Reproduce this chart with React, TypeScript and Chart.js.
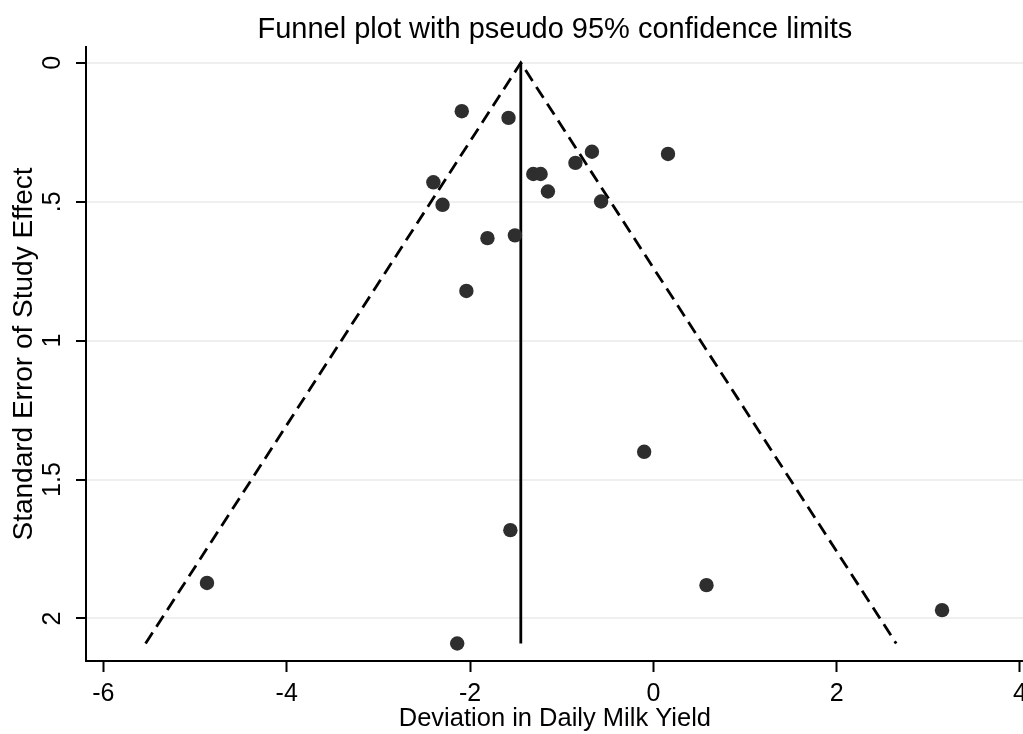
import React, { useEffect, useRef } from "react";
import { Chart, registerables } from "chart.js";

Chart.register(...registerables);

// Study estimates: effect (deviation in daily milk yield) and its standard error
const effectX = [-2.09, -1.58, -2.40, -2.30, -1.81, -1.51, -0.67, -0.85, 0.16, -1.31, -1.23, -1.15, -0.57, -2.04, -4.87, -2.14, -1.56, -0.10, 0.58, 3.15];
const seY = [0.174, 0.198, 0.430, 0.511, 0.631, 0.621, 0.320, 0.360, 0.328, 0.400, 0.400, 0.463, 0.499, 0.821, 1.872, 2.090, 1.682, 1.400, 1.880, 1.970];

// Pseudo 95% confidence limits (funnel) and pooled effect line
const limitX = [-5.54, -1.446, 2.65];
const limitY = [2.09, 0, 2.09];
const pooledX = [-1.446, -1.446];
const pooledY = [0, 2.09];

// Axes
const xTicks = [-6, -4, -2, 0, 2, 4];
const xTickLabels = ["-6", "-4", "-2", "0", "2", "4"];
const yTicks = [0, 0.5, 1, 1.5, 2];
const yTickLabels = ["0", ".5", "1", "1.5", "2"];
const xRange = [-6.19, 4.042];
const yRange = [-0.057, 2.153];

const chartTitle = "Funnel plot with pseudo 95% confidence limits";
const xTitle = "Deviation in Daily Milk Yield";
const yTitle = "Standard Error of Study Effect";

const FONT = "'Liberation Sans', Arial, Helvetica, sans-serif";

export default function App() {
  const ref = useRef<HTMLCanvasElement | null>(null);

  useEffect(() => {
    if (!ref.current) return;
    const chart = new Chart(ref.current, {
      type: "scatter",
      data: {
        datasets: [
          {
            label: "limits",
            data: limitX.map((x, i) => ({ x, y: limitY[i] })),
            showLine: true,
            borderColor: "#000",
            borderWidth: 2.8,
            borderDash: [13, 7],
            pointRadius: 0,
            fill: false,
            order: 3,
          },
          {
            label: "pooled",
            data: pooledX.map((x, i) => ({ x, y: pooledY[i] })),
            showLine: true,
            borderColor: "#000",
            borderWidth: 2.8,
            pointRadius: 0,
            fill: false,
            order: 2,
          },
          {
            label: "studies",
            data: effectX.map((x, i) => ({ x, y: seY[i] })),
            pointRadius: 7.2,
            pointBackgroundColor: "#2e2e2e",
            pointBorderColor: "#2e2e2e",
            pointBorderWidth: 0,
            showLine: false,
            order: 1,
          },
        ],
      },
      options: {
        responsive: false,
        maintainAspectRatio: false,
        animation: false,
        layout: { padding: 0 },
        plugins: {
          legend: { display: false },
          tooltip: { enabled: false },
          title: {
            display: true,
            text: chartTitle,
            color: "#000",
            fullSize: false,
            font: { family: FONT, size: 29, weight: "normal" },
            padding: { top: 12.5, bottom: -0.3 },
          },
        },
        scales: {
          x: {
            type: "linear",
            min: xRange[0],
            max: xRange[1],
            afterBuildTicks: (s: any) => {
              s.ticks = xTicks.map((v) => ({ value: v }));
            },
            afterFit: (s: any) => {
              s.height = 73;
              s.paddingLeft = 0;
              s.paddingRight = 0;
            },
            ticks: {
              callback: (_v: any, i: number) => xTickLabels[i],
              color: "#000",
              font: { family: FONT, size: 25 },
              padding: 7,
              maxRotation: 0,
              minRotation: 0,
              autoSkip: false,
            },
            grid: {
              drawOnChartArea: false,
              tickLength: 11,
              tickColor: "#000",
              tickWidth: 2,
            },
            border: { color: "#000", width: 2 },
            title: {
              display: true,
              text: xTitle,
              color: "#000",
              font: { family: FONT, size: 25.5 },
              padding: { top: 0, bottom: 0 },
            },
          },
          y: {
            type: "linear",
            reverse: true,
            min: yRange[0],
            max: yRange[1],
            afterBuildTicks: (s: any) => {
              s.ticks = yTicks.map((v) => ({ value: v }));
            },
            afterFit: (s: any) => {
              s.width = 86;
              s.paddingTop = 0;
              s.paddingBottom = 0;
            },
            ticks: {
              callback: (_v: any, i: number) => yTickLabels[i],
              color: "#000",
              font: { family: FONT, size: 25 },
              padding: 5.5,
              minRotation: 90,
              maxRotation: 90,
              crossAlign: "center",
              autoSkip: false,
            },
            grid: {
              color: "#efefef",
              lineWidth: 2,
              tickLength: 10,
              tickColor: "#000",
              tickWidth: 2,
            },
            border: { color: "#000", width: 2 },
            title: {
              display: true,
              text: yTitle,
              color: "#000",
              font: { family: FONT, size: 28 },
              padding: { top: 7, bottom: 0 },
            },
          },
        },
      },
    });
    return () => chart.destroy();
  }, []);

  return (
    <div style={{ position: "fixed", left: 0, top: 0, width: 1023, height: 734, overflow: "hidden", background: "#fff" }}>
      <canvas ref={ref} width={1031} height={734} style={{ display: "block" }} />
    </div>
  );
}
